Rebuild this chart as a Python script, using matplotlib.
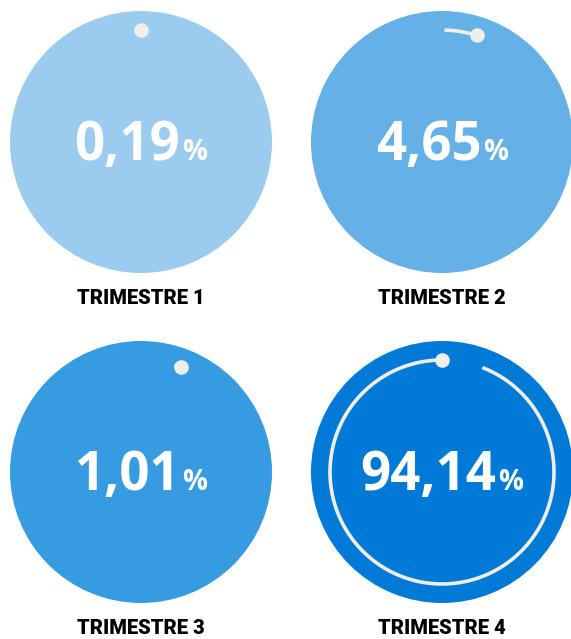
import numpy as np
import matplotlib
matplotlib.use("Agg")
import matplotlib.pyplot as plt
from matplotlib.patches import Circle

# ---- data ----
quarters = ["TRIMESTRE 1", "TRIMESTRE 2", "TRIMESTRE 3", "TRIMESTRE 4"]
shares = [0.19, 4.65, 1.01, 94.14]          # percent
marker_angles = [0, 18, 21, 0]              # dot position (deg, clockwise from top)

# ---- style ----
fills = ["#9BCCF0", "#65B0E6", "#379BE1", "#0079D7"]
ring_color = "#EEEFEA"
centers = [(141, 142), (442, 142), (141, 472), (442, 472)]
R = 131
r_ring = 112
label_y = [298, 298, 629, 629]

W, H = 571, 639
fig = plt.figure(figsize=(W / 100, H / 100), dpi=100)
ax = fig.add_axes([0, 0, 1, 1])
ax.set_xlim(0, W)
ax.set_ylim(H, 0)
ax.set_aspect("equal")
ax.axis("off")

num_font = dict(family=["Open Sans", "DejaVu Sans"], weight="bold", color="white")
fig.canvas.draw()
renderer = fig.canvas.get_renderer()

for i, (q, v, a0) in enumerate(zip(quarters, shares, marker_angles)):
    cx, cy = centers[i]
    ax.add_patch(Circle((cx, cy), R, facecolor=fills[i], edgecolor="none", zorder=1))
    # progress arc: from marker going counter-clockwise by share of full turn
    span = v / 100 * 360
    ang = np.radians(np.linspace(a0 - span, a0, 400))
    ax.plot(cx + r_ring * np.sin(ang), cy - r_ring * np.cos(ang),
            color=ring_color, lw=2.6, solid_capstyle="butt", zorder=2)
    ax.plot(cx + r_ring * np.sin(np.radians(a0)), cy - r_ring * np.cos(np.radians(a0)),
            "o", ms=10.5, color=ring_color, mec="none", zorder=3)

    # value text: big number + small %
    s = f"{v:.2f}".replace(".", ",")
    t1 = ax.text(0, cy + 18, s, fontsize=38, ha="left", va="baseline", zorder=4, **num_font)
    t2 = ax.text(0, cy + 18, "%", fontsize=20, ha="left", va="baseline", zorder=4, **num_font)
    w1 = t1.get_window_extent(renderer).width
    w2 = t2.get_window_extent(renderer).width
    total = w1 + 2 + w2
    x0 = cx - total / 2
    t1.set_x(x0)
    t2.set_x(x0 + w1 + 2)

    ax.text(cx, label_y[i], q, fontsize=14.5, ha="center", va="center",
            family=["Roboto", "DejaVu Sans"], weight="black", color="black")

fig.savefig("out.png", dpi=100, facecolor="white")
